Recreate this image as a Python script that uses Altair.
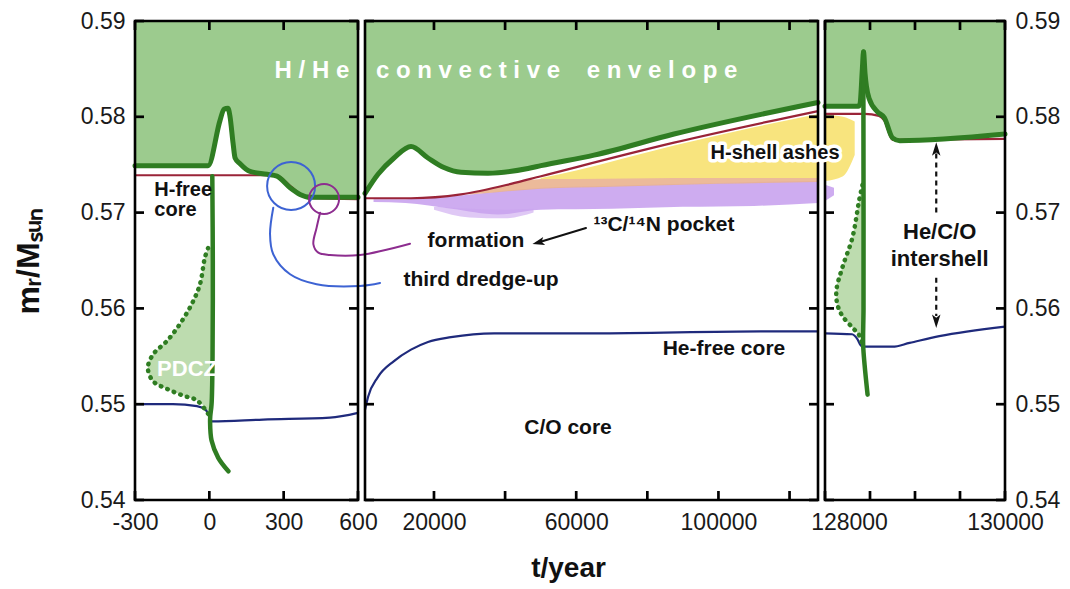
import altair as alt
import pandas as pd

FONT = "Liberation Sans"

# ---------------- colours ----------------
ENV_FILL = "#9ccb8e"
PDCZ_FILL = "#bddcaf"
DARK_GREEN = "#2f7d22"
H_RED = "#9a2438"
HE_BLUE = "#1f2a7c"
RING_BLUE = "#3d63d3"
RING_PURPLE = "#8d2d8f"
ASH_YELLOW = "#f8e47e"
ASH_ORANGE = "#eab38f"
POCKET_VIOLET = "#c9a3ee"
TICK_COLOR = "black"

# ---------------- axes ----------------
Y_DOMAIN = [0.54, 0.59]
Y_TICKS = [0.54, 0.55, 0.56, 0.57, 0.58, 0.59]

P1_DOMAIN = [-300, 600]
P1_TICKS = [-300, 0, 300, 600]
P1_LABELS = [-300, 0, 300, 600]

P2_DOMAIN = [600, 128000]
P2_TICKS = [20000, 40000, 60000, 80000, 100000, 120000]
P2_LABELS = [20000, 60000, 100000]

P3_DOMAIN = [128000, 130000]
P3_TICKS = [128000, 128500, 129000, 129500, 130000]
P3_LABELS = [128000, 130000]

# ---------------- panel 1 (-300 .. 600 yr) ----------------
ENV1_T = [-300, -5, 43, 59, 75, 83, 96, 104, 124, 164, 233, 273, 326, 366, 406, 600]
ENV1_Y = [0.5749, 0.5749, 0.5796, 0.5808, 0.5809, 0.5801, 0.5772, 0.5757, 0.5751,
          0.5743, 0.5740, 0.5738, 0.5726, 0.5719, 0.5716, 0.5716]
HF1_T = [-300, 270, 330, 370, 420, 600]
HF1_Y = [0.5739, 0.5739, 0.5727, 0.5719, 0.5715, 0.5714]
HE1_T = [-300, -147, -50, -15, -5, 5, 11, 217, 487, 600]
HE1_Y = [0.5500, 0.5500, 0.5498, 0.5494, 0.5490, 0.5483, 0.5482, 0.5484, 0.5486, 0.5491]
PDCZ1_Y = [0.5663, 0.5653, 0.5625, 0.5605, 0.5584, 0.5566, 0.5552, 0.5538, 0.5524,
           0.5516, 0.5509, 0.5504, 0.5490]
PDCZ1_TL = [-5, -18, -38, -70, -118, -171, -227, -248, -227, -171, -106, -50, -5]
PDCZ1_TR = [14, 14, 14, 14, 14, 14, 14, 13, 13, 12, 11, 10, 4]
VERT1_T = [12, 14, 13, 9, 4, 3, 9, 36, 77]
VERT1_Y = [0.5738, 0.5650, 0.5550, 0.5500, 0.5488, 0.5482, 0.5462, 0.5444, 0.5430]
RING_DREDGE = (330, 0.57278)
RING_FORM = (463, 0.57142)
DREDGE_T = [258, 245, 258, 326, 433, 608, 689]
DREDGE_Y = [0.57051, 0.56774, 0.56565, 0.56356, 0.56252, 0.56234, 0.56265]
FORM_T = [447, 433, 420, 440, 487, 608, 810]
FORM_Y = [0.56999, 0.56843, 0.56669, 0.56582, 0.56558, 0.56558, 0.56675]
P1_TXT = ["H-free", "core"]
P1_TXT_T = [-222, -222]
P1_TXT_Y = [0.5724, 0.5703]
PDCZ_TXT = ["PDCZ"]
PDCZ_TXT_T = [-90]
PDCZ_TXT_Y = [0.5537]

# ---------------- panel 2 (600 .. 128000 yr) ----------------
ENV2_T = [600, 4256, 8755, 13535, 18316, 22815, 27595, 35188, 46436, 50091, 65000, 87500, 128000]
ENV2_Y = [0.5720, 0.5740, 0.5757, 0.5769, 0.5757, 0.5747, 0.5742, 0.5741, 0.5746,
          0.5749, 0.5760, 0.5782, 0.5815]
HF2_T = [600, 13535, 27595, 41655, 50091, 87500, 128000]
HF2_Y = [0.5715, 0.5715, 0.5719, 0.5730, 0.5738, 0.5773, 0.5806]
HE2_T = [600, 1500, 4170, 8755, 13535, 18316, 24784, 36900, 65000, 111950, 128000]
HE2_Y = [0.5494, 0.5508, 0.5528, 0.5545, 0.5557, 0.5565, 0.5570, 0.5574, 0.5574, 0.5576, 0.5576]
VIOLET2_T = [3000, 12000, 25000, 38000, 50000, 70000, 90000, 110000, 128000]
VIOLET2_LO = [0.5711, 0.5710, 0.5704, 0.5698, 0.5703, 0.5704, 0.5706, 0.5707, 0.5710]
VIOLET2_HI = [0.5714, 0.5714, 0.5717, 0.5722, 0.5726, 0.5728, 0.5730, 0.5732, 0.5733]
VIOLET2B_T = [20000, 30000, 40000, 48000]
VIOLET2B_LO = [0.5703, 0.5695, 0.5694, 0.5700]
VIOLET2B_HI = [0.5706, 0.5704, 0.5703, 0.5704]
ORANGE2_T = [30000, 37000, 50000, 70000, 100000, 128000]
ORANGE2_LO = [0.5719, 0.5721, 0.5725, 0.5727, 0.5730, 0.5732]
ORANGE2_HI = [0.5720, 0.5726, 0.5735, 0.5737, 0.5738, 0.5738]
YELLOW2_T = [50000, 60000, 87500, 110000, 128000]
YELLOW2_LO = [0.5735, 0.5735, 0.5736, 0.5736, 0.5736]
YELLOW2_HI = [0.5736, 0.5744, 0.5770, 0.5789, 0.5803]
ENVELOPE_TXT = "H/He convective envelope"
ENVELOPE_TXT_T = 40250
ENVELOPE_TXT_Y = 0.5848
P2_TXT = ["\u00b9\u00b3C/\u00b9\u2074N pocket", "formation",
          "third dredge-up", "C/O core", "He-free core"]
P2_TXT_T = [84679, 31813, 33219, 57684, 101551]
P2_TXT_Y = [0.5687, 0.5670, 0.5630, 0.5475, 0.5558]
POCKET_ARROW_T = [62750, 49530]
POCKET_ARROW_Y = [0.5684, 0.5669]

# ---------------- panel 3 (128000 .. 130000 yr) ----------------
ENV3_T = [128000, 128370, 128390, 128415, 128428, 128445, 128460, 128490, 128585,
          128660, 128750, 128830, 130000]
ENV3_Y = [0.5811, 0.5811, 0.5814, 0.5850, 0.5868, 0.5845, 0.5832, 0.5819, 0.5805,
          0.5799, 0.5778, 0.5775, 0.5782]
HF3_T = [128000, 128440, 128600, 128660, 128750, 130000]
HF3_Y = [0.5803, 0.5803, 0.5801, 0.5796, 0.5776, 0.5777]
HE3_T = [128000, 128300, 128360, 128400, 128450, 128750, 128940, 129270, 130000]
HE3_Y = [0.5574, 0.5573, 0.5568, 0.5561, 0.5560, 0.5560, 0.5564, 0.5571, 0.5581]
PDCZ3_Y = [0.5729, 0.5713, 0.5674, 0.5643, 0.5619, 0.5604, 0.5592, 0.5580, 0.5572, 0.5562]
PDCZ3_TL = [128417, 128380, 128305, 128194, 128127, 128138, 128194, 128305, 128380, 128417]
PDCZ3_TR = [128428, 128428, 128428, 128428, 128428, 128428, 128428, 128428, 128427, 128425]
VERT3_T = [128426, 128428, 128428, 128424, 128440, 128473]
VERT3_Y = [0.5868, 0.5720, 0.5600, 0.5562, 0.5541, 0.5510]
YELLOW3_T = [128000, 128200, 128330]
YELLOW3_LO = [0.5733, 0.5738, 0.5760]
YELLOW3_HI = [0.5802, 0.5800, 0.5795]
VIOLET3_T = [128000, 128100]
VIOLET3_LO = [0.5712, 0.5718]
VIOLET3_HI = [0.5729, 0.5726]
# "H-shell ashes" straddles panels 2 and 3; it is placed with panel 3's scale
ASHES_TXT = ["H-shell ashes"]
ASHES_TXT_T = [127445]
ASHES_TXT_Y = [0.5762]
P3_TXT = ["He/C/O", "intershell"]
P3_TXT_T = [129274, 129274]
P3_TXT_Y = [0.5680, 0.5652]
INTERSHELL_ARROW_T = 129236
UP_SHAFT_Y = [0.5700, 0.5764]
UP_HEAD_Y = 0.5766
DOWN_SHAFT_Y = [0.5632, 0.5592]
DOWN_HEAD_Y = 0.5587

TICK = 9
W1, W2, W3, H = 223, 453, 180, 479


# ---------------- helpers ----------------
def x_label_expr(labels):
    lst = "[" + ",".join(str(v) for v in labels) + "]"
    return ("indexof(" + lst + ", datum.value) >= 0 ? (datum.value < 0 ? '-' + "
            "format(-datum.value, 'd') : format(datum.value, 'd')) : ''")


def axis(orient, values, label_expr=None, **extra):
    kw = dict(orient=orient, values=values, grid=False, domain=False, ticks=False,
              zindex=1, labelFlush=False, labelOverlap=False, labelFont=FONT,
              labelFontSize=23, labelColor="#1a1a1a", title=None)
    if label_expr is None:
        kw["labels"] = False
    else:
        kw["labelExpr"] = label_expr
    kw.update(extra)
    return alt.Axis(**kw)


def qx(domain, ax=None, field="t"):
    return alt.X(field + ":Q", scale=alt.Scale(domain=domain, nice=False, zero=False), axis=ax)


def qy(field="y", ax=None):
    return alt.Y(field + ":Q", scale=alt.Scale(domain=Y_DOMAIN, nice=False, zero=False), axis=ax)


def frame(domain):
    return alt.Chart(pd.DataFrame({"k": [0]})).mark_rect(
        filled=False, stroke="black", strokeWidth=2.6).encode(
        x=alt.XDatum(domain[0], axis=None), x2=alt.X2Datum(domain[1]),
        y=alt.YDatum(Y_DOMAIN[0], axis=None), y2=alt.Y2Datum(Y_DOMAIN[1]))


def inward_ticks(domain, xticks, width):
    """Tick marks pointing into the frame on all four sides (TICK pixels long)."""
    ly = (Y_DOMAIN[1] - Y_DOMAIN[0]) * TICK / H
    lx = (domain[1] - domain[0]) * TICK / width
    vrows, hrows = [], []
    for v in xticks:
        vrows.append({"t": v, "y": Y_DOMAIN[0], "y2": Y_DOMAIN[0] + ly})
        vrows.append({"t": v, "y": Y_DOMAIN[1] - ly, "y2": Y_DOMAIN[1]})
    for v in Y_TICKS:
        hrows.append({"t": domain[0], "t2": domain[0] + lx, "y": v})
        hrows.append({"t": domain[1] - lx, "t2": domain[1], "y": v})
    vt = alt.Chart(pd.DataFrame(vrows)).mark_rule(
        color=TICK_COLOR, strokeWidth=2.7, opacity=1).encode(
        x=qx(domain), y=qy(), y2="y2:Q")
    ht = alt.Chart(pd.DataFrame(hrows)).mark_rule(
        color=TICK_COLOR, strokeWidth=2.7, opacity=1).encode(
        y=qy(), x=qx(domain), x2="t2:Q")
    return [vt, ht]


def envelope(T, Y, domain, ax_b, ax_l, ax_t, ax_r):
    d = pd.DataFrame({"t": T, "y": Y})
    area = alt.Chart(d).mark_area(color=ENV_FILL, interpolate="monotone").encode(
        x=qx(domain, ax_b), y=qy("y", ax_l), y2=alt.Y2Datum(Y_DOMAIN[1]))
    line = alt.Chart(d).mark_line(color=DARK_GREEN, strokeWidth=5, interpolate="monotone",
                                  strokeJoin="round", strokeCap="round").encode(
        x=qx(domain, ax_t), y=qy("y", ax_r))
    return area, line


def line(T, Y, domain, color, width, interp="monotone", dash=None, order=False, cap="round"):
    d = pd.DataFrame({"t": T, "y": Y, "i": list(range(len(T)))})
    kw = dict(color=color, strokeWidth=width, interpolate=interp, strokeCap=cap,
              strokeJoin="round")
    if dash is not None:
        kw["strokeDash"] = dash
    enc = dict(x=qx(domain), y=qy())
    if order:
        enc["order"] = alt.Order("i:Q")
    return alt.Chart(d).mark_line(**kw).encode(**enc)


def band(T, LO, HI, domain, color, opacity=1.0):
    d = pd.DataFrame({"t": T, "lo": LO, "hi": HI})
    return alt.Chart(d).mark_area(color=color, opacity=opacity, interpolate="monotone").encode(
        x=qx(domain), y=qy("lo"), y2="hi:Q")


def pdcz(Y, TL, TR, domain):
    d = pd.DataFrame({"y": Y, "tl": TL, "tr": TR})
    return alt.Chart(d).mark_area(color=PDCZ_FILL, orient="horizontal",
                                  interpolate="monotone").encode(
        y=qy(), x=qx(domain, field="tl"), x2="tr:Q")


def texts(labels, T, Y, domain, size, color="#111111", align="center", halo=False):
    d = pd.DataFrame({"t": T, "y": Y, "label": labels})
    style = dict(font=FONT, fontWeight="bold", fontSize=size, align=align, baseline="middle")
    enc = dict(x=qx(domain), y=qy(), text="label:N")
    top = alt.Chart(d).mark_text(color=color, **style).encode(**enc)
    if not halo:
        return top
    back = alt.Chart(d).mark_text(color="white", stroke="white", strokeWidth=7,
                                  strokeJoin="round", **style).encode(**enc)
    return alt.layer(back, top)


Y_LABEL = "format(datum.value, '.2f')"
NBSP = "\u00a0"

# ---------------- panel 1 ----------------
a1, l1 = envelope(
    ENV1_T, ENV1_Y, P1_DOMAIN,
    axis("bottom", P1_TICKS, x_label_expr(P1_LABELS), labelPadding=11),
    axis("left", Y_TICKS, Y_LABEL, labelPadding=10, title="m\u1d63/M\u209b\u1d64\u2099",
         titleFont=FONT, titleFontSize=32, titleFontWeight="bold", titleColor="#111111",
         titlePadding=35),
    axis("top", P1_TICKS),
    axis("right", Y_TICKS),
)
rings = alt.Chart(pd.DataFrame({"t": [RING_DREDGE[0]], "y": [RING_DREDGE[1]]})).mark_point(
    shape="circle", size=2304, filled=False, color=RING_BLUE, strokeWidth=2, opacity=1).encode(
    x=qx(P1_DOMAIN), y=qy())
ring2 = alt.Chart(pd.DataFrame({"t": [RING_FORM[0]], "y": [RING_FORM[1]]})).mark_point(
    shape="circle", size=900, filled=False, color=RING_PURPLE, strokeWidth=2, opacity=1).encode(
    x=qx(P1_DOMAIN), y=qy())

panel1 = alt.layer(
    a1,
    pdcz(PDCZ1_Y, PDCZ1_TL, PDCZ1_TR, P1_DOMAIN),
    line(HF1_T, HF1_Y, P1_DOMAIN, H_RED, 2.2),
    line(HE1_T, HE1_Y, P1_DOMAIN, HE_BLUE, 2.2),
    l1,
    line(PDCZ1_TL, PDCZ1_Y, P1_DOMAIN, DARK_GREEN, 4.5, interp="catmull-rom",
         dash=[0.5, 6.5], order=True),
    line(VERT1_T, VERT1_Y, P1_DOMAIN, DARK_GREEN, 4.5, interp="catmull-rom", order=True),
    rings, ring2,
    line(DREDGE_T, DREDGE_Y, P1_DOMAIN, RING_BLUE, 2, interp="catmull-rom", order=True),
    line(FORM_T, FORM_Y, P1_DOMAIN, RING_PURPLE, 2, interp="catmull-rom", order=True),
    texts(P1_TXT, P1_TXT_T, P1_TXT_Y, P1_DOMAIN, 20, align="left"),
    texts(PDCZ_TXT, PDCZ_TXT_T, PDCZ_TXT_Y, P1_DOMAIN, 22, color="white"),
    *inward_ticks(P1_DOMAIN, P1_TICKS, W1),
    frame(P1_DOMAIN),
).resolve_axis(x="independent", y="independent").properties(width=W1, height=H)

# ---------------- panel 2 ----------------
a2, l2 = envelope(
    ENV2_T, ENV2_Y, P2_DOMAIN,
    axis("bottom", P2_TICKS, x_label_expr(P2_LABELS), labelPadding=11, format="d",
         title="t/year", titleFont=FONT, titleFontSize=28, titleFontWeight="bold",
         titleColor="#111111", titleX=203, titlePadding=20),
    axis("left", Y_TICKS),
    axis("top", P2_TICKS),
    axis("right", Y_TICKS),
)
spaced = (NBSP * 4).join(NBSP.join(list(w)) for w in ENVELOPE_TXT.split(" "))
arrow_head = alt.Chart(pd.DataFrame({"t": [POCKET_ARROW_T[1]], "y": [POCKET_ARROW_Y[1]]})).mark_point(
    shape="M-1,0L0.8,-0.6L0.4,0L0.8,0.6Z", size=180, filled=True, color="#111111",
    angle=346, opacity=1).encode(x=qx(P2_DOMAIN), y=qy())

panel2 = alt.layer(
    a2,
    band(VIOLET2_T, VIOLET2_LO, VIOLET2_HI, P2_DOMAIN, POCKET_VIOLET, 0.9),
    band(VIOLET2B_T, VIOLET2B_LO, VIOLET2B_HI, P2_DOMAIN, POCKET_VIOLET, 0.6),
    band(ORANGE2_T, ORANGE2_LO, ORANGE2_HI, P2_DOMAIN, ASH_ORANGE, 0.9),
    band(YELLOW2_T, YELLOW2_LO, YELLOW2_HI, P2_DOMAIN, ASH_YELLOW),
    line(HF2_T, HF2_Y, P2_DOMAIN, H_RED, 2.2),
    line(HE2_T, HE2_Y, P2_DOMAIN, HE_BLUE, 2.2),
    l2,
    texts([spaced], [ENVELOPE_TXT_T], [ENVELOPE_TXT_Y], P2_DOMAIN, 24, color="white"),
    texts(P2_TXT, P2_TXT_T, P2_TXT_Y, P2_DOMAIN, 21),
    line(POCKET_ARROW_T, POCKET_ARROW_Y, P2_DOMAIN, "#111111", 2, interp="linear", order=True),
    arrow_head,
    *inward_ticks(P2_DOMAIN, P2_TICKS, W2),
    frame(P2_DOMAIN),
).resolve_axis(x="independent", y="independent").properties(width=W2, height=H)

# ---------------- panel 3 ----------------
a3, l3 = envelope(
    ENV3_T, ENV3_Y, P3_DOMAIN,
    axis("bottom", P3_TICKS, x_label_expr(P3_LABELS), labelPadding=11,
         labelOffset={"condition": {"test": "datum.value == 128000", "value": 24}, "value": 0}),
    axis("left", Y_TICKS),
    axis("top", P3_TICKS),
    axis("right", Y_TICKS, Y_LABEL, labelPadding=10),
)
shafts = alt.Chart(pd.DataFrame({
    "t": [INTERSHELL_ARROW_T, INTERSHELL_ARROW_T],
    "y": [UP_SHAFT_Y[0], DOWN_SHAFT_Y[0]],
    "y2": [UP_SHAFT_Y[1], DOWN_SHAFT_Y[1]]})).mark_rule(
    color="#111111", strokeWidth=2.2, strokeDash=[5, 4]).encode(
    x=qx(P3_DOMAIN), y=qy(), y2="y2:Q")
head_up = alt.Chart(pd.DataFrame({"t": [INTERSHELL_ARROW_T], "y": [UP_HEAD_Y]})).mark_point(
    shape="M0,-1L0.6,0.9L0,0.45L-0.6,0.9Z", size=200, filled=True, color="#111111",
    opacity=1).encode(x=qx(P3_DOMAIN), y=qy())
head_down = alt.Chart(pd.DataFrame({"t": [INTERSHELL_ARROW_T], "y": [DOWN_HEAD_Y]})).mark_point(
    shape="M0,1L0.6,-0.9L0,-0.45L-0.6,-0.9Z", size=200, filled=True, color="#111111",
    opacity=1).encode(x=qx(P3_DOMAIN), y=qy())

panel3 = alt.layer(
    a3,
    band(VIOLET3_T, VIOLET3_LO, VIOLET3_HI, P3_DOMAIN, POCKET_VIOLET, 0.9),
    band(YELLOW3_T, YELLOW3_LO, YELLOW3_HI, P3_DOMAIN, ASH_YELLOW),
    pdcz(PDCZ3_Y, PDCZ3_TL, PDCZ3_TR, P3_DOMAIN),
    line(HF3_T, HF3_Y, P3_DOMAIN, H_RED, 2.2),
    line(HE3_T, HE3_Y, P3_DOMAIN, HE_BLUE, 2.2),
    l3,
    line(PDCZ3_TL, PDCZ3_Y, P3_DOMAIN, DARK_GREEN, 4.5, interp="catmull-rom",
         dash=[0.5, 6.5], order=True),
    line(VERT3_T, VERT3_Y, P3_DOMAIN, DARK_GREEN, 4.5, interp="catmull-rom", order=True),
    texts(P3_TXT, P3_TXT_T, P3_TXT_Y, P3_DOMAIN, 22),
    shafts, head_up, head_down,
    *inward_ticks(P3_DOMAIN, P3_TICKS, W3),
    frame(P3_DOMAIN),
    texts(ASHES_TXT, ASHES_TXT_T, ASHES_TXT_Y, P3_DOMAIN, 20, halo=True),
).resolve_axis(x="independent", y="independent").properties(width=W3, height=H)

chart = alt.hconcat(panel1, panel2, panel3, spacing=7, bounds="flush").properties(
    padding={"left": 3, "top": 1, "right": 0, "bottom": 0}, background="white"
).configure_view(stroke="transparent")

chart.save("out.html", embed_options={"renderer": "svg", "actions": False})
